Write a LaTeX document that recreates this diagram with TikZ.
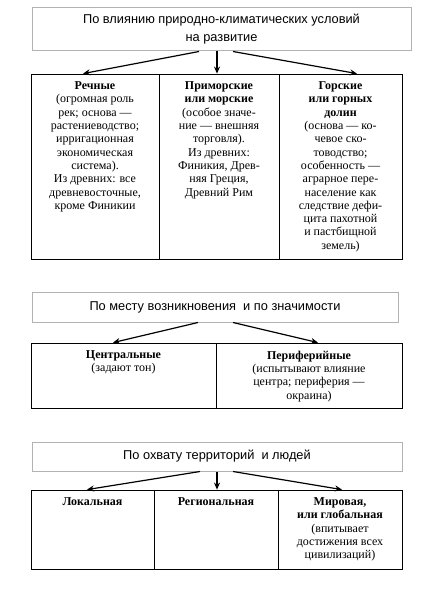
\documentclass[tikz,border=0pt]{standalone}
\usepackage{fontspec}
\setmainfont{Liberation Serif}
\newfontfamily\headfont{Liberation Sans}
\usetikzlibrary{arrows.meta}

\begin{document}
\begin{tikzpicture}[x=1pt,y=-1pt,
  head/.style={draw=gray!60,line width=1pt,inner sep=0pt,align=center,
    font=\headfont\fontsize{12.8}{18}\selectfont},
  cell/.style={draw,line width=0.8pt,inner sep=0pt},
  txt/.style={anchor=north,align=center,inner sep=0pt,
    font=\fontsize{12}{13.3}\selectfont},
  arr/.style={-{Stealth[length=7pt,width=6pt]},line width=1.2pt}]
\useasboundingbox (0,0) rectangle (421,615);

% first block: climate
\node[head,minimum width=379pt,minimum height=43pt] (h1) at (221.5,29.5)
  {По влиянию природно-климатических условий\\на развитие};
\node[cell,minimum width=128pt,minimum height=185pt] (r1a) at (95,166.5) {};
\node[cell,minimum width=120pt,minimum height=185pt] (r1b) at (219,166.5) {};
\node[cell,minimum width=123pt,minimum height=185pt] (r1c) at (340.5,166.5) {};
\node[txt] (t1a) at ([yshift=-8pt]r1a.north)
  {\textbf{Речные}\\(огромная роль\\рек; основа ---\\растениеводство;\\ирригационная\\
   экономическая\\система).\\Из древних: все\\древневосточные,\\кроме Финикии};
\node[txt] (t1b) at ([yshift=-8pt]r1b.north)
  {\textbf{Приморские}\\\textbf{или морские}\\(особое значе-\\ние --- внешняя\\торговля).\\
   Из древних:\\Финикия, Древ-\\няя Греция,\\Древний Рим};
\node[txt] (t1c) at ([yshift=-8pt]r1c.north)
  {\textbf{Горские}\\\textbf{или горных}\\\textbf{долин}\\(основа --- ко-\\чевое ско-\\товодство;\\
   особенность ---\\аграрное пере-\\население как\\следствие дефи-\\цита пахотной\\
   и пастбищной\\земель)};
\draw[arr] ([xshift=-22.5pt]h1.south) -- ([xshift=-12pt]r1a.north);
\draw[arr] ([xshift=-4.5pt]h1.south) -- ([xshift=-2pt]r1b.north);
\draw[arr] ([xshift=11.5pt]h1.south) -- ([xshift=16.5pt]r1c.north);

% second block: place of origin
\node[head,minimum width=366pt,minimum height=30pt] (h2) at (215,307)
  {По месту возникновения\ \ и по значимости};
\node[cell,minimum width=185pt,minimum height=65pt] (r2a) at (123.5,375.5) {};
\node[cell,minimum width=186pt,minimum height=65pt] (r2b) at (309,375.5) {};
\node[txt] (t2a) at ([yshift=-8pt]r2a.north)
  {\textbf{Центральные}\\(задают тон)};
\node[txt] (t2b) at ([yshift=-8pt]r2b.north)
  {\textbf{Периферийные}\\(испытывают влияние\\центра; периферия ---\\окраина)};
\draw[arr] ([xshift=-17pt]h2.south) -- ([xshift=-10.5pt]r2a.north);
\draw[arr] ([xshift=18pt]h2.south) -- ([xshift=9pt]r2b.north);

% third block: territory
\node[head,minimum width=370pt,minimum height=29pt] (h3) at (217,456.5)
  {По охвату территорий\ \ и людей};
\node[cell,minimum width=123pt,minimum height=79pt] (r3a) at (92.5,529.5) {};
\node[cell,minimum width=124pt,minimum height=79pt] (r3b) at (216,529.5) {};
\node[cell,minimum width=124pt,minimum height=79pt] (r3c) at (340,529.5) {};
\node[txt] (t3a) at ([yshift=-8pt]r3a.north) {\textbf{Локальная}};
\node[txt] (t3b) at ([yshift=-8pt]r3b.north) {\textbf{Региональная}};
\node[txt] (t3c) at ([yshift=-8pt]r3c.north)
  {\textbf{Мировая,}\\\textbf{или глобальная}\\(впитывает\\достижения всех\\цивилизаций)};
\draw[arr] ([xshift=-17pt]h3.south) -- ([xshift=-5.5pt]r3a.north);
\draw[arr] (h3.south) -- ([xshift=1pt]r3b.north);
\draw[arr] ([xshift=16pt]h3.south) -- ([xshift=2pt]r3c.north);

\end{tikzpicture}
\end{document}
